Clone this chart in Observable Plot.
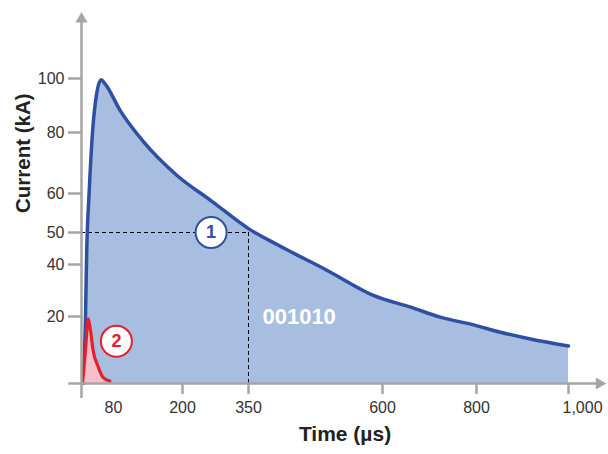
<!DOCTYPE html>
<html>
<head>
<meta charset="utf-8">
<script src="https://cdn.jsdelivr.net/npm/d3@7"></script>
<script src="https://cdn.jsdelivr.net/npm/@observablehq/plot@0.6"></script>
<style>
  html, body { margin: 0; padding: 0; background: #fff; }
</style>
</head>
<body>
<div id="chart"></div>
<script>
// Wave 1 (10/350-like long wave)
const blueTime    = [5, 10, 13, 19, 27.5, 38, 49, 59, 92, 132, 190, 267, 350, 406, 497, 584, 660, 723, 794, 852, 917, 1000];
const blueCurrent = [0, 20, 44, 60, 80, 94.5, 99.5, 98, 88, 77, 66, 58, 51, 46, 37.7, 28, 23.6, 19.8, 17.5, 15.3, 13.3, 11.2];
// Wave 2 (8/20-like short wave)
const redTime    = [2.5, 10, 17, 22.5, 29, 42, 54, 71];
const redCurrent = [0, 10, 19.3, 15.8, 9.9, 4.9, 1.8, 0.7];

// Axis ticks and labels
const xTickValues  = [200, 350, 600, 800, 1000];
const xLabelValues = [80, 200, 350, 600, 800];
const xLastLabel   = [1000];
const yTickValues  = [20, 40, 50, 60, 80, 100];

// Reference marker (wave 1 at 350 µs → 50 kA)
const refTime = [350];
const refCurrent = [50];

// Annotations
const badges = [
  {t: 265, i: 50, label: "1", color: "#2f4fa2"},
  {t: 85, i: 12.6, label: "2", color: "#e3202b"}
];
const waveCode = [{t: 376, i: 20, label: "001010"}];

// Axis extents (data units)
const xAxisExtent = [-32, 1067];
const yAxisExtent = [-4.5, 122];

// Schematic (non-uniform) axis calibration from the original figure
const xKnots = [0, 80, 200, 350, 600, 800, 1000];
const xPx    = [81, 113, 182, 248, 382, 476, 568];
const yKnots = [0, 20, 40, 50, 60, 80, 100];
const yPx    = [383, 316, 264, 232, 193, 132, 78];

const blue = blueTime.map((t, k) => ({t, i: blueCurrent[k]}));
const red = redTime.map((t, k) => ({t, i: redCurrent[k]}));

const axisGray = "#a5a5a5";
const textCol = "#333333";

const chart = Plot.plot({
  width: 608,
  height: 454,
  marginLeft: 81,
  marginRight: 0,
  marginTop: 12,
  marginBottom: 71,
  style: {fontFamily: "'Liberation Sans', Arial, sans-serif", background: "#fff"},
  x: {type: "linear", domain: xKnots, range: xPx, axis: null},
  y: {type: "linear", domain: yKnots, range: yPx, axis: null},
  marks: [
    Plot.areaY(blue, {x: "t", y: "i", fill: "#a8bee0", curve: "monotone-x"}),
    Plot.ruleY(refCurrent, {x1: 0, x2: refTime[0], stroke: "#000", strokeWidth: 1, strokeDasharray: "4,3"}),
    Plot.ruleX(refTime, {y1: 0, y2: refCurrent[0], stroke: "#000", strokeWidth: 1, strokeDasharray: "4,3"}),
    Plot.lineY(blue, {x: "t", y: "i", stroke: "#2f4fa2", strokeWidth: 3.5, curve: "monotone-x"}),
    Plot.areaY(red, {x: "t", y: "i", fill: "#f5bfcc", curve: "monotone-x"}),
    Plot.lineY(red, {x: "t", y: "i", stroke: "#e3202b", strokeWidth: 3.2, curve: "monotone-x"}),
    Plot.dot(badges, {x: "t", y: "i", r: 15.5, fill: "#fff", stroke: "color", strokeWidth: 2}),
    Plot.text(badges, {x: "t", y: "i", text: "label", fill: "color", fontSize: 18, fontWeight: "bold"}),
    Plot.text(waveCode, {x: "t", y: "i", text: "label", fill: "#fff", fontSize: 22, fontWeight: "bold", textAnchor: "start"}),
    // axes lines
    Plot.ruleY([0], {x1: xAxisExtent[0], x2: xAxisExtent[1], stroke: axisGray, strokeWidth: 2.5}),
    Plot.ruleX([0], {y1: yAxisExtent[0], y2: yAxisExtent[1], stroke: axisGray, strokeWidth: 2.5}),
    Plot.dot([0], {x: xAxisExtent[1], y: 0, symbol: "triangle", r: 4.5, fill: axisGray, rotate: 90}),
    Plot.dot([0], {x: 0, y: yAxisExtent[1], symbol: "triangle", r: 4.5, fill: axisGray}),
    // ticks and labels
    Plot.axisY(yTickValues, {anchor: "left", tickSize: 13, tickPadding: 4, fontSize: 16, stroke: axisGray, strokeWidth: 2.5, fill: textCol, label: null}),
    Plot.axisX(xTickValues, {anchor: "bottom", tickSize: 11, tickFormat: () => "", stroke: axisGray, strokeWidth: 2.5, label: null}),
    Plot.axisX(xLabelValues, {anchor: "bottom", tickSize: 0, tickPadding: 18, fontSize: 16, fill: textCol, tickFormat: d3.format(","), label: null}),
    Plot.axisX(xLastLabel, {anchor: "bottom", tickSize: 0, tickPadding: 18, fontSize: 16, fill: textCol, tickFormat: d3.format(","), textAnchor: "start", dx: -6, label: null}),
    // axis titles
    Plot.text(["Current (kA)"], {frameAnchor: "left", text: d => d, rotate: -90, dx: -58, dy: 15, fontSize: 20.5, fontWeight: "bold", fill: "#222"}),
    Plot.text(["Time (µs)"], {frameAnchor: "bottom", text: d => d, dy: 57, fontSize: 21, fontWeight: "bold", fill: "#222"})
  ]
});
document.getElementById("chart").appendChild(chart);
</script>
</body>
</html>
